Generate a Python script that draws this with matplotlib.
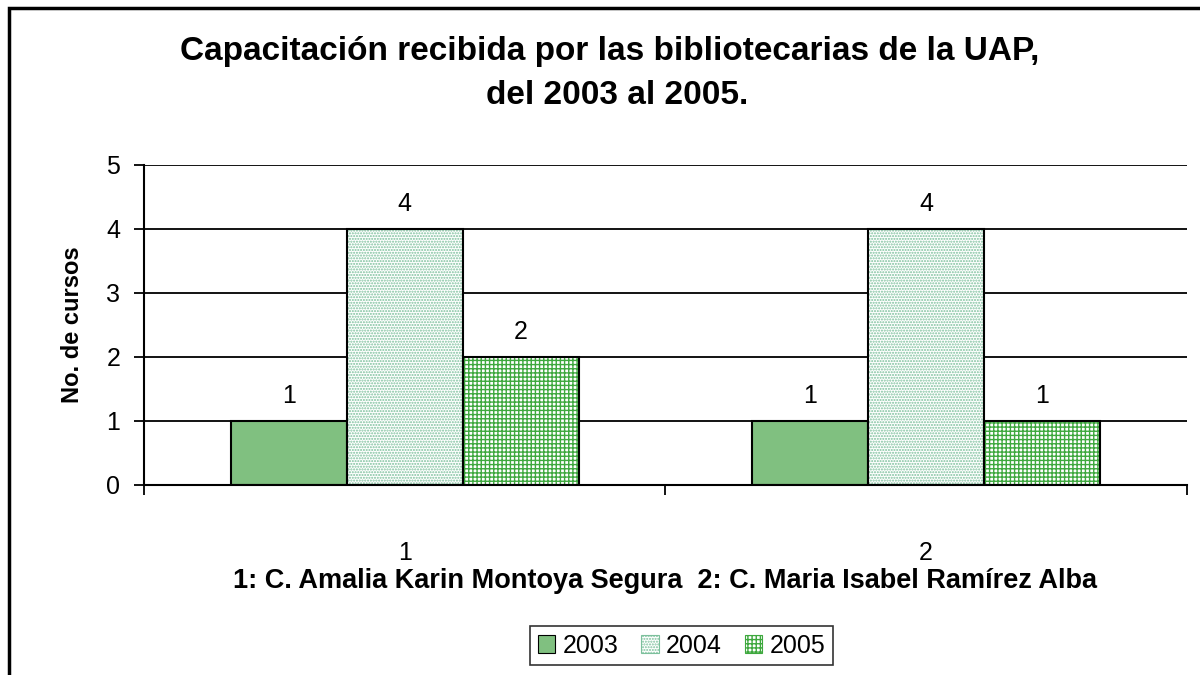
import matplotlib
matplotlib.use("Agg")
import matplotlib.pyplot as plt
import matplotlib.patches as mpatches
from matplotlib import font_manager
import numpy as np

categories = ["1", "2"]
years = ["2003", "2004", "2005"]
v2003 = [1, 1]
v2004 = [4, 4]
v2005 = [2, 1]
yticks = [0, 1, 2, 3, 4, 5]

title_lines = ["Capacitación recibida por las bibliotecarias de la UAP,", "del 2003 al 2005."]
ylabel = "No. de cursos"
xlabel = "1: C. Amalia Karin Montoya Segura  2: C. Maria Isabel Ramírez Alba"

avail = {f.name for f in font_manager.fontManager.ttflist}
narrow = "Liberation Sans Narrow" if "Liberation Sans Narrow" in avail else "Liberation Sans"
plt.rcParams['font.family'] = ['Liberation Sans', 'DejaVu Sans']
plt.rcParams['hatch.linewidth'] = 1.0

fig = plt.figure(figsize=(12, 6.75), dpi=100)
ax = fig.add_axes([0.12, 0.2815, 0.869, 0.4741])

x = np.arange(1, len(categories) + 1)
w = 0.2225
styles = [
    dict(face="#80c080", hatch=None, hc=None),
    dict(face="#ffffff", hatch="......", hc="#7cc09c"),
    dict(face="#ffffff", hatch="++++", hc="#3ea83e"),
]
series = [v2003, v2004, v2005]
handles = []
for i, (vals, st) in enumerate(zip(series, styles)):
    pos = x + (i - 1) * w
    if st["hatch"]:
        ax.bar(pos, vals, w, color=st["face"], hatch=st["hatch"], edgecolor=st["hc"],
               linewidth=0, zorder=3)
    else:
        ax.bar(pos, vals, w, color=st["face"], linewidth=0, zorder=3)
    ax.bar(pos, vals, w, fill=False, edgecolor="black", linewidth=1.5, zorder=4)
    for p, v in zip(pos, vals):
        ax.text(p, v + 0.2, str(v), ha="center", va="bottom", fontsize=18, zorder=5)
    handles.append(mpatches.Patch(facecolor=st["face"], hatch=st["hatch"],
                                  edgecolor=st["hc"] if st["hc"] else "black", linewidth=0.8))

ax.set_xlim(0.5, len(categories) + 0.5)
ax.set_ylim(0, 5)
ax.set_yticks(yticks)
ax.set_yticklabels([str(t) for t in yticks], fontsize=18)
ax.yaxis.grid(True, color="black", linewidth=1.3, zorder=0)
ax.set_axisbelow(True)
ax.tick_params(axis="y", direction="out", length=7, width=1.3, pad=10)

ax.set_xticks(np.arange(0.5, len(categories) + 1, 1.0))
ax.set_xticklabels([])
ax.tick_params(axis="x", which="major", direction="out", length=7, width=1.3)
ax.set_xticks(x, minor=True)
ax.set_xticklabels(categories, minor=True, fontsize=18)
ax.tick_params(axis="x", which="minor", length=0, pad=40)

for s in ["top", "right"]:
    ax.spines[s].set_visible(False)
for s in ["left", "bottom"]:
    ax.spines[s].set_linewidth(1.5)
    ax.spines[s].set_zorder(6)

ax.set_ylabel(ylabel, fontsize=17, fontweight="bold", family=[narrow, 'DejaVu Sans'], labelpad=16)
fig.text(0.554, 0.139, xlabel, ha="center", va="center", fontsize=19.5, fontweight="bold",
         family=[narrow, 'DejaVu Sans'])

fig.text(0.508, 0.923, title_lines[0], ha="center", va="center", fontsize=24, fontweight="bold")
fig.text(0.514, 0.858, title_lines[1], ha="center", va="center", fontsize=24, fontweight="bold")

leg = fig.legend(handles, years, loc="center", bbox_to_anchor=(0.568, 0.043), ncol=3,
                 fontsize=18, frameon=True, fancybox=False, edgecolor="black",
                 handlelength=0.7, handleheight=0.7, handletextpad=0.3, columnspacing=0.9,
                 borderpad=0.3)
leg.get_frame().set_linewidth(1.2)

frame = mpatches.Rectangle((9 / 1200, -0.2), 1.2, 1.2 - 8 / 675, transform=fig.transFigure,
                           fill=False, edgecolor="black", linewidth=2.5, clip_on=False)
fig.patches.append(frame)

fig.savefig("out.png", dpi=100)
